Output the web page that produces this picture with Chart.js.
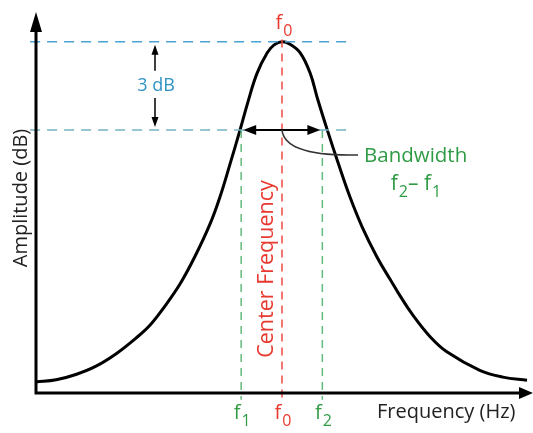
<!DOCTYPE html>
<html>
<head>
<meta charset="utf-8">
<script src="https://cdn.jsdelivr.net/npm/chart.js@4"></script>
<style>
  html, body { margin: 0; padding: 0; background: #ffffff; }
  #wrap { width: 533px; height: 433px; }
</style>
</head>
<body>
<div id="wrap"><canvas id="bandChart" width="533" height="433"></canvas></div>
<script>
// response curve, frequency on 0..100, amplitude on 0..100 (no ticks shown)
const freq = [0, 4.1, 8.1, 12.2, 16.3, 20.3, 23.2, 26.2, 29.3, 32.3, 35.4, 37.4, 39.4, 41.5, 43.1, 44.9, 47.0, 48.4, 50,
              51.6, 53.7, 55.7, 57.3, 59.2, 61.4, 63.8, 66.3, 69.3, 72.0, 74.0, 76.6, 80.1, 83.5, 90.2, 94.9, 99.8];
const amplitude = [2.9, 3.5, 4.9, 7.1, 10.4, 14.5, 18.0, 23.0, 28.9, 36.1, 44.8, 51.9, 60.4, 69.7, 77.1, 84.5, 90.0, 92.1, 92.9,
                   92.3, 90.0, 84.7, 77.5, 69.6, 60.9, 51.9, 43.9, 36.0, 30.0, 25.7, 20.6, 14.9, 10.9, 6.0, 4.2, 3.4];

// marker frequencies and levels
const markerNames = ['f1', 'f0', 'f2'];
const markerFreq = [41.7, 50, 58.2];
const peakLevel = 92.9;
const halfPowerLevel = 69.6;
const guideStart = -1.2;
const guideEnd = 64.2;
const guideBottom = -1.8;

const red = '#e8392f';
const green = '#2f9c45';
const blue = '#2f93c3';

const curve = freq.map((f, i) => ({ x: f, y: amplitude[i] }));

function vline(x, top, color) {
    return {
        data: [{ x: x, y: top }, { x: x, y: guideBottom }],
        borderColor: color, borderWidth: 1.5, borderDash: [8, 6],
        pointRadius: 0, showLine: true, clip: false, tension: 0
    };
}

function hline(y, color) {
    return {
        data: [{ x: guideStart, y: y }, { x: guideEnd, y: y }],
        borderColor: color, borderWidth: 1.5, borderDash: [10, 7],
        pointRadius: 0, showLine: true, clip: false, tension: 0
    };
}

function arrowHead(ctx, x, y, dir, len, half) {
    // dir: 'up', 'down', 'left', 'right' ; (x,y) is the tip
    ctx.beginPath();
    ctx.moveTo(x, y);
    if (dir === 'up') { ctx.lineTo(x - half, y + len); ctx.lineTo(x + half, y + len); }
    if (dir === 'down') { ctx.lineTo(x - half, y - len); ctx.lineTo(x + half, y - len); }
    if (dir === 'left') { ctx.lineTo(x + len, y - half); ctx.lineTo(x + len, y + half); }
    if (dir === 'right') { ctx.lineTo(x - len, y - half); ctx.lineTo(x - len, y + half); }
    ctx.closePath();
    ctx.fill();
}

// draws text pieces, some of them as subscripts, centred on cx
function subText(ctx, parts, cx, baseY, size, color) {
    const subSize = Math.round(size * 0.78);
    let total = 0;
    parts.forEach(p => {
        ctx.font = (p.sub ? subSize : size) + 'px "Open Sans"';
        p.w = ctx.measureText(p.t).width + (p.sub ? 1 : 0);
        total += p.w;
    });
    let x = cx - total / 2;
    ctx.fillStyle = color;
    ctx.textAlign = 'left';
    ctx.textBaseline = 'alphabetic';
    parts.forEach(p => {
        ctx.font = (p.sub ? subSize : size) + 'px "Open Sans"';
        ctx.fillText(p.t, x + (p.sub ? 1 : 0), baseY + (p.sub ? 7 : 0));
        x += p.w;
    });
}

const diagramPlugin = {
    id: 'diagram',
    afterDatasetsDraw(chart) {
        const ctx = chart.ctx;
        const xs = chart.scales.x;
        const ys = chart.scales.y;
        const area = chart.chartArea;
        ctx.save();

        // axes with arrows
        ctx.strokeStyle = '#000';
        ctx.fillStyle = '#000';
        ctx.lineWidth = 3;
        ctx.beginPath();
        ctx.moveTo(area.left, area.top + 8);
        ctx.lineTo(area.left, area.bottom);
        ctx.lineTo(chart.width - 8, area.bottom);
        ctx.stroke();
        arrowHead(ctx, area.left, area.top - 3, 'up', 20, 6);
        arrowHead(ctx, chart.width, area.bottom, 'right', 14, 6);

        // 3 dB arrows
        const x3 = 155;
        const yPeak = ys.getPixelForValue(peakLevel);
        const yHalf = ys.getPixelForValue(halfPowerLevel);
        ctx.lineWidth = 1.5;
        ctx.beginPath();
        ctx.moveTo(x3, yPeak + 6); ctx.lineTo(x3, yPeak + 29);
        ctx.moveTo(x3, yHalf - 32); ctx.lineTo(x3, yHalf - 6);
        ctx.stroke();
        arrowHead(ctx, x3, yPeak + 3, 'up', 10, 3.5);
        arrowHead(ctx, x3, yHalf - 3, 'down', 10, 3.5);

        // bandwidth double arrow
        const x1 = xs.getPixelForValue(markerFreq[0]);
        const x0 = xs.getPixelForValue(markerFreq[1]);
        const x2 = xs.getPixelForValue(markerFreq[2]);
        ctx.lineWidth = 2;
        ctx.beginPath();
        ctx.moveTo(x1 + 6, yHalf); ctx.lineTo(x2 - 6, yHalf);
        ctx.stroke();
        arrowHead(ctx, x1 + 2, yHalf, 'left', 13, 5);
        arrowHead(ctx, x2 - 2, yHalf, 'right', 13, 5);

        // leader line to the label
        ctx.strokeStyle = '#333';
        ctx.lineWidth = 1.5;
        ctx.beginPath();
        ctx.moveTo(x0, yHalf);
        ctx.bezierCurveTo(x0 + 2, yHalf + 20, x0 + 35, yHalf + 26, x0 + 76, yHalf + 25);
        ctx.stroke();

        // labels
        ctx.textAlign = 'center';
        ctx.textBaseline = 'middle';
        ctx.fillStyle = blue;
        ctx.font = '18px "Open Sans"';
        ctx.fillText('3 dB', x3 + 1, (yPeak + yHalf) / 2);

        ctx.fillStyle = green;
        ctx.font = '20.5px "Open Sans"';
        ctx.textAlign = 'left';
        ctx.fillText('Bandwidth', 364, 156);
        subText(ctx, [{ t: 'f' }, { t: '2', sub: true }, { t: '\u2013 f' }, { t: '1', sub: true }], 416, 190, 21, green);

        subText(ctx, [{ t: 'f' }, { t: '0', sub: true }], x0 + 2, 29, 20, red);

        const tickColors = [green, red, green];
        markerNames.forEach((name, i) => {
            const px = xs.getPixelForValue(markerFreq[i]);
            subText(ctx, [{ t: name[0] }, { t: name.slice(1), sub: true }], px + 1, 419, 20, tickColors[i]);
        });

        ctx.fillStyle = '#222';
        ctx.font = '20px "Open Sans"';
        ctx.textAlign = 'left';
        ctx.textBaseline = 'middle';
        ctx.fillText('Frequency (Hz)', 377, 412);

        ctx.save();
        ctx.translate(21, 198);
        ctx.rotate(-Math.PI / 2);
        ctx.textAlign = 'center';
        ctx.font = '20px "Open Sans"';
        ctx.fillText('Amplitude (dB)', 0, 0);
        ctx.restore();

        ctx.save();
        ctx.translate(267, 269);
        ctx.rotate(-Math.PI / 2);
        ctx.textAlign = 'center';
        ctx.fillStyle = red;
        ctx.font = '21.5px "Open Sans"';
        ctx.fillText('Center Frequency', 0, 0);
        ctx.restore();

        ctx.restore();
    }
};

new Chart(document.getElementById('bandChart').getContext('2d'), {
    type: 'scatter',
    data: {
        datasets: [
            hline(peakLevel, '#4aa3d2'),
            hline(halfPowerLevel, '#76b4c4'),
            vline(markerFreq[0], halfPowerLevel, '#62bb7c'),
            vline(markerFreq[2], halfPowerLevel, '#62bb7c'),
            vline(markerFreq[1], peakLevel + 0.6, '#ee4b42'),
            {
                data: curve,
                borderColor: '#000',
                borderWidth: 3,
                pointRadius: 0,
                showLine: true,
                tension: 0.4,
                clip: false
            }
        ]
    },
    options: {
        responsive: false,
        devicePixelRatio: 1,
        animation: false,
        layout: { padding: { left: 36, right: 5, top: 15, bottom: 40 } },
        plugins: {
            legend: { display: false },
            tooltip: { enabled: false }
        },
        scales: {
            x: { type: 'linear', min: 0, max: 100, display: false },
            y: { type: 'linear', min: 0, max: 100, display: false }
        }
    },
    plugins: [diagramPlugin]
});
</script>
</body>
</html>
